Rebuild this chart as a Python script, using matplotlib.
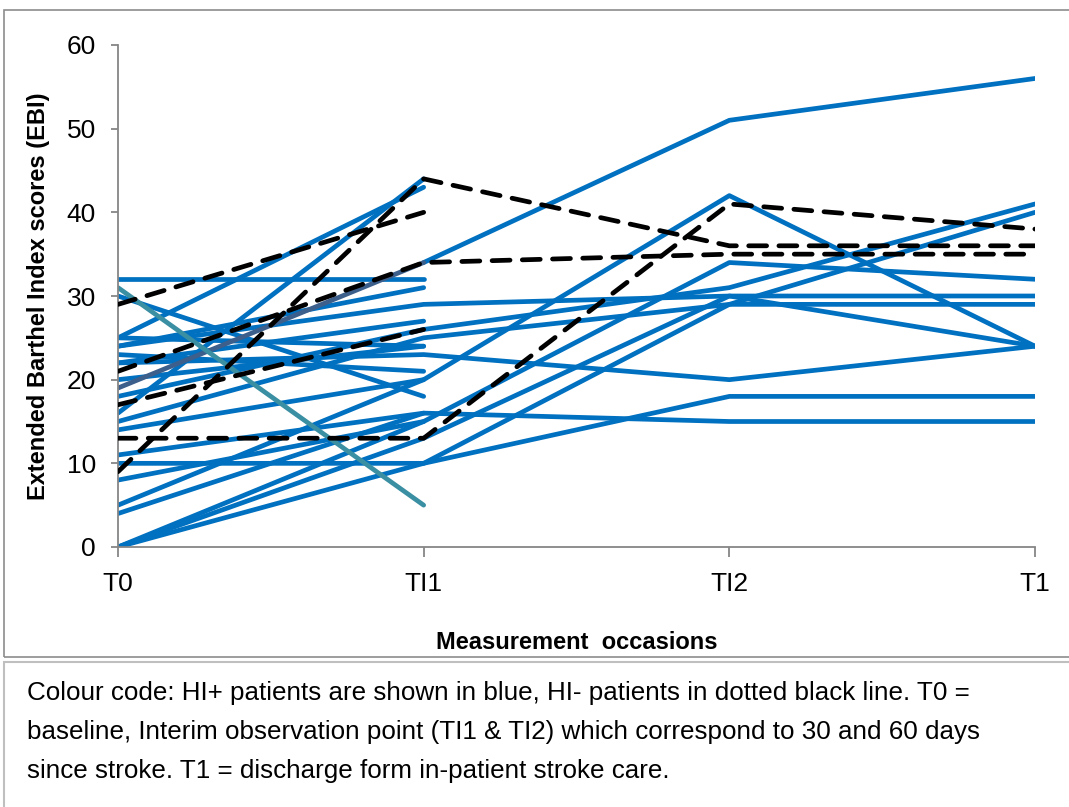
import numpy as np
import matplotlib
matplotlib.use("Agg")
import matplotlib.pyplot as plt
from matplotlib.patches import Rectangle
from matplotlib import font_manager

# ------------------------------------------------------------
# Data: EBI score per patient at T0, TI1, TI2, T1 (nan = not measured)
occasions = ["T0", "TI1", "TI2", "T1"]
nan = np.nan

# HI+ patients (blue)
hi_pos = [
    [32, 32, nan, nan],
    [30, 18, nan, nan],
    [25, 43, nan, nan],
    [25, 24, nan, nan],
    [24, 29, 30, 30],
    [24, 31, nan, nan],
    [23, 21, nan, nan],
    [22, 27, nan, nan],
    [22, 23, 20, 24],
    [20, 24, nan, nan],
    [18, 26, 31, 41],
    [16, 44, nan, nan],
    [15, 25, 29, 29],
    [14, 20, 42, 24],
    [11, 16, 15, 15],
    [10, 10, 18, 18],
    [8, 15, 34, 32],
    [5, 20, nan, nan],
    [4, 16, nan, nan],
    [0, 15, nan, nan],
    [0, 13, 30, 24],
    [0, 10, 29, 40],
    [nan, 34, 51, 56],
]
# two HI+ series drawn in other shades
slate_series = [19, 34, nan, nan]
teal_series = [31, 5, nan, nan]

# HI- patients (dashed black)
hi_neg = [
    [29, 40, nan, nan],
    [9, 44, 36, 36],
    [17, 26, nan, nan],
    [21, 34, 35, 35],
    [13, 13, 41, 38],
]

y_ticks = [0, 10, 20, 30, 40, 50, 60]

caption = ["Colour code: HI+ patients are shown in blue, HI- patients in dotted black line. T0 =",
           "baseline, Interim observation point (TI1 & TI2) which correspond to 30 and 60 days",
           "since stroke. T1 = discharge form in-patient stroke care."]

# ------------------------------------------------------------
names = {f.name for f in font_manager.fontManager.ttflist}
if "Liberation Sans Narrow" in names:
    plt.rcParams['font.family'] = ['Liberation Sans Narrow', 'Liberation Sans', 'DejaVu Sans']
else:
    plt.rcParams['font.family'] = ['Liberation Sans', 'DejaVu Sans']

W, H = 1069, 807
fig = plt.figure(figsize=(W / 100, H / 100), dpi=100)

# --- frames around chart and caption
fig.patches.append(Rectangle((4 / W, 1 - 657 / H), 1.2, 647 / H, transform=fig.transFigure,
                             fill=False, edgecolor="#8c8c8c", linewidth=1.2, zorder=0))
fig.patches.append(Rectangle((4 / W, -0.1), 1.2, 0.1 + 1 - 662 / H, transform=fig.transFigure,
                             fill=False, edgecolor="#bfbfbf", linewidth=1.5, zorder=0))

ax = fig.add_axes([118 / W, 1 - 547 / H, (1035 - 118) / W, (547 - 45) / H])
x = np.arange(len(occasions))

lw = 3.4
blue = "#0070C0"
for s in hi_pos:
    ax.plot(x, s, color=blue, linewidth=lw, solid_capstyle="round", zorder=2)
ax.plot(x, slate_series, color="#3c5f8c", linewidth=lw, solid_capstyle="round", zorder=2)
ax.plot(x, teal_series, color="#3a8fa3", linewidth=lw, solid_capstyle="round", zorder=2)
for s in hi_neg:
    ax.plot(x, s, color="black", linewidth=lw, linestyle=(0, (3.8, 2.6)),
            dash_capstyle="round", zorder=3)

ax.set_xlim(0, 3)
ax.set_ylim(0, 60)
ax.set_yticks(y_ticks)
ax.set_xticks(x)
ax.set_xticklabels(occasions)

for side in ["top", "right"]:
    ax.spines[side].set_visible(False)
for side in ["left", "bottom"]:
    ax.spines[side].set_color("#868686")
    ax.spines[side].set_linewidth(1.3)
ax.tick_params(axis="y", length=5, width=1.3, color="#868686", labelsize=19, pad=11)
ax.tick_params(axis="x", length=7, width=1.3, color="#868686", labelsize=19, pad=11)

ax.set_ylabel("Extended Barthel Index scores (EBI)", fontsize=17, fontweight="bold", labelpad=12)
ax.set_xlabel("Measurement  occasions", fontsize=17, fontweight="bold", labelpad=25)

for i, line in enumerate(caption):
    fig.text(27 / W, 1 - (693 + i * 39) / H, line, fontsize=18.7, va="center", ha="left")

fig.savefig("out.png", dpi=100)
